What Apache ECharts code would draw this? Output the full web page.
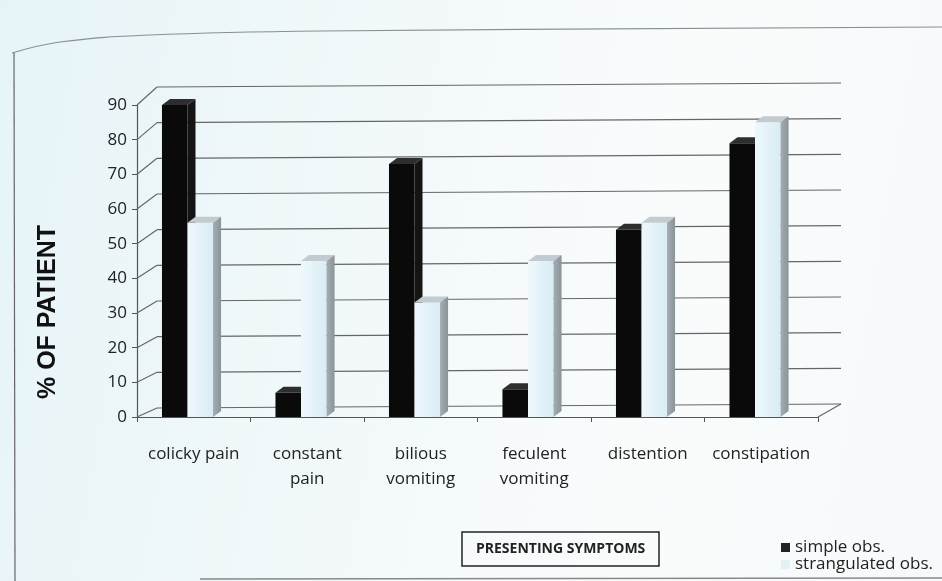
<!DOCTYPE html>
<html>
<head>
<meta charset="utf-8">
<script src="https://cdn.jsdelivr.net/npm/echarts@6/dist/echarts.min.js"></script>
<style>
  html, body { margin: 0; padding: 0; }
  #main {
    width: 942px; height: 581px;
    background: linear-gradient(100deg, #e6f4f8 0%, #f1f8fa 35%, #fafcfc 70%, #f6fafb 100%);
  }
</style>
</head>
<body>
<div id="main"></div>
<script>
// values, % of patients
var categories = ['colicky pain', 'constant\npain', 'bilious\nvomiting', 'feculent\nvomiting', 'distention', 'constipation'];
var simpleObs = [90, 7, 73, 8, 54, 79];
var strangulatedObs = [56, 45, 33, 45, 56, 85];
var yTicks = [0, 10, 20, 30, 40, 50, 60, 70, 80, 90];

var chart = echarts.init(document.getElementById('main'), null, { renderer: 'canvas' });

// fake 3D: side wall diagonals + back wall gridlines
function wallItem(params, api) {
  var v = api.value(1);
  var cs = params.coordSys;
  var p = api.coord([0, v]);
  var fx = cs.x, fy = p[1];
  var t = v / 90;
  var bx = fx + 20, by = fy - 9 - 9 * t;
  var ex = cs.x + cs.width + 23, ey = by - 4;
  var style = { stroke: '#666', lineWidth: 1.2 };
  var children = [
    { type: 'line', shape: { x1: fx, y1: fy, x2: bx, y2: by }, style: style },
    { type: 'line', shape: { x1: bx, y1: by, x2: ex, y2: ey }, style: style }
  ];
  if (v === 0) {
    children.push({ type: 'line', shape: { x1: cs.x + cs.width, y1: fy, x2: ex, y2: ey }, style: style });
  }
  return { type: 'group', children: children };
}

var faces = [
  { front: '#0a0a0a', top: '#2e2e2e', side: '#141414' },
  {
    front: new echarts.graphic.LinearGradient(0, 0, 1, 0, [{ offset: 0, color: '#eef8fc' }, { offset: 1, color: '#d9ecf4' }]),
    top: '#c2ccd0',
    side: new echarts.graphic.LinearGradient(0, 0, 1, 0, [{ offset: 0, color: '#a4adb1' }, { offset: 1, color: '#8a9397' }])
  }
];

function barItem(si) {
  return function (params, api) {
    var ci = api.value(0), v = api.value(1);
    var top = api.coord([ci, v]);
    var base = api.coord([ci, 0]);
    var band = api.size([1, 0])[0];
    var w = band * 0.225;
    var x0 = top[0] - band * 0.28 + si * w;
    var dx = 8, dy = 6;
    var f = faces[si];
    return {
      type: 'group',
      children: [
        { type: 'rect', shape: { x: x0, y: top[1], width: w, height: base[1] - top[1] }, style: { fill: f.front } },
        { type: 'polygon', shape: { points: [[x0, top[1]], [x0 + dx, top[1] - dy], [x0 + w + dx, top[1] - dy], [x0 + w, top[1]]] }, style: { fill: f.top } },
        { type: 'polygon', shape: { points: [[x0 + w, top[1]], [x0 + w + dx, top[1] - dy], [x0 + w + dx, base[1] - dy], [x0 + w, base[1]]] }, style: { fill: f.side } }
      ]
    };
  };
}

var option = {
  backgroundColor: 'transparent',
  textStyle: { fontFamily: 'Open Sans' },
  animation: false,
  title: {
    text: 'PRESENTING SYMPTOMS',
    left: 462, top: 532,
    padding: [10, 14],
    borderColor: '#222', borderWidth: 1.5,
    textStyle: { fontFamily: 'Open Sans', fontWeight: 'bold', fontSize: 14, color: '#222' }
  },
  legend: {
    orient: 'vertical',
    left: 781, top: 539,
    padding: 0,
    itemWidth: 9, itemHeight: 9, itemGap: 0,
    textStyle: { fontSize: 17, lineHeight: 17, color: '#222', fontFamily: 'Open Sans' },
    data: [
      { name: 'simple obs.', icon: 'rect', itemStyle: { color: '#222' } },
      { name: 'strangulated obs.', icon: 'rect', itemStyle: { color: '#e2f1f6' } }
    ]
  },
  grid: { left: 137, top: 105, width: 681, height: 312 },
  xAxis: {
    type: 'category',
    data: categories,
    axisLine: { lineStyle: { color: '#555', width: 1.2 } },
    axisTick: { show: true, length: 5, lineStyle: { color: '#555' } },
    axisLabel: { interval: 0, fontSize: 17, lineHeight: 25, color: '#222', margin: 25 },
    splitLine: { show: false }
  },
  yAxis: {
    type: 'value',
    min: 0, max: 90, interval: 10,
    name: '% OF PATIENT',
    nameLocation: 'middle',
    nameGap: 76,
    nameRotate: 90,
    nameTextStyle: { fontFamily: 'Liberation Sans', fontWeight: 'bold', fontSize: 25, color: '#111', padding: [0, 102, 0, 0] },
    axisLine: { show: true, lineStyle: { color: '#555', width: 1.2 } },
    axisTick: { show: true, length: 5, lineStyle: { color: '#555' } },
    axisLabel: { fontSize: 17, color: '#222', margin: 10 },
    splitLine: { show: false }
  },
  series: [
    {
      type: 'custom', name: 'wall', silent: true, z: 1,
      renderItem: wallItem,
      encode: { x: 0, y: 1 },
      data: yTicks.map(function (v) { return [0, v]; })
    },
    {
      type: 'custom', name: 'simple obs.', z: 2,
      itemStyle: { color: '#222' },
      renderItem: barItem(0),
      encode: { x: 0, y: 1 },
      data: simpleObs.map(function (v, i) { return [i, v]; })
    },
    {
      type: 'custom', name: 'strangulated obs.', z: 3,
      itemStyle: { color: '#e2f1f6' },
      renderItem: barItem(1),
      encode: { x: 0, y: 1 },
      data: strangulatedObs.map(function (v, i) { return [i, v]; })
    }
  ],
  graphic: [
    { type: 'polyline', silent: true, shape: { points: [[12, 53], [60, 42], [150, 35], [320, 31], [942, 27]], smooth: 0.4 }, style: { stroke: '#8a8f91', lineWidth: 1.2, fill: null } },
    { type: 'line', silent: true, shape: { x1: 14, y1: 53, x2: 15, y2: 581 }, style: { stroke: '#666', lineWidth: 1.2 } },
    { type: 'line', silent: true, shape: { x1: 200, y1: 579, x2: 942, y2: 578 }, style: { stroke: '#888', lineWidth: 1.5 } }
  ]
};

chart.setOption(option);
</script>
</body>
</html>
